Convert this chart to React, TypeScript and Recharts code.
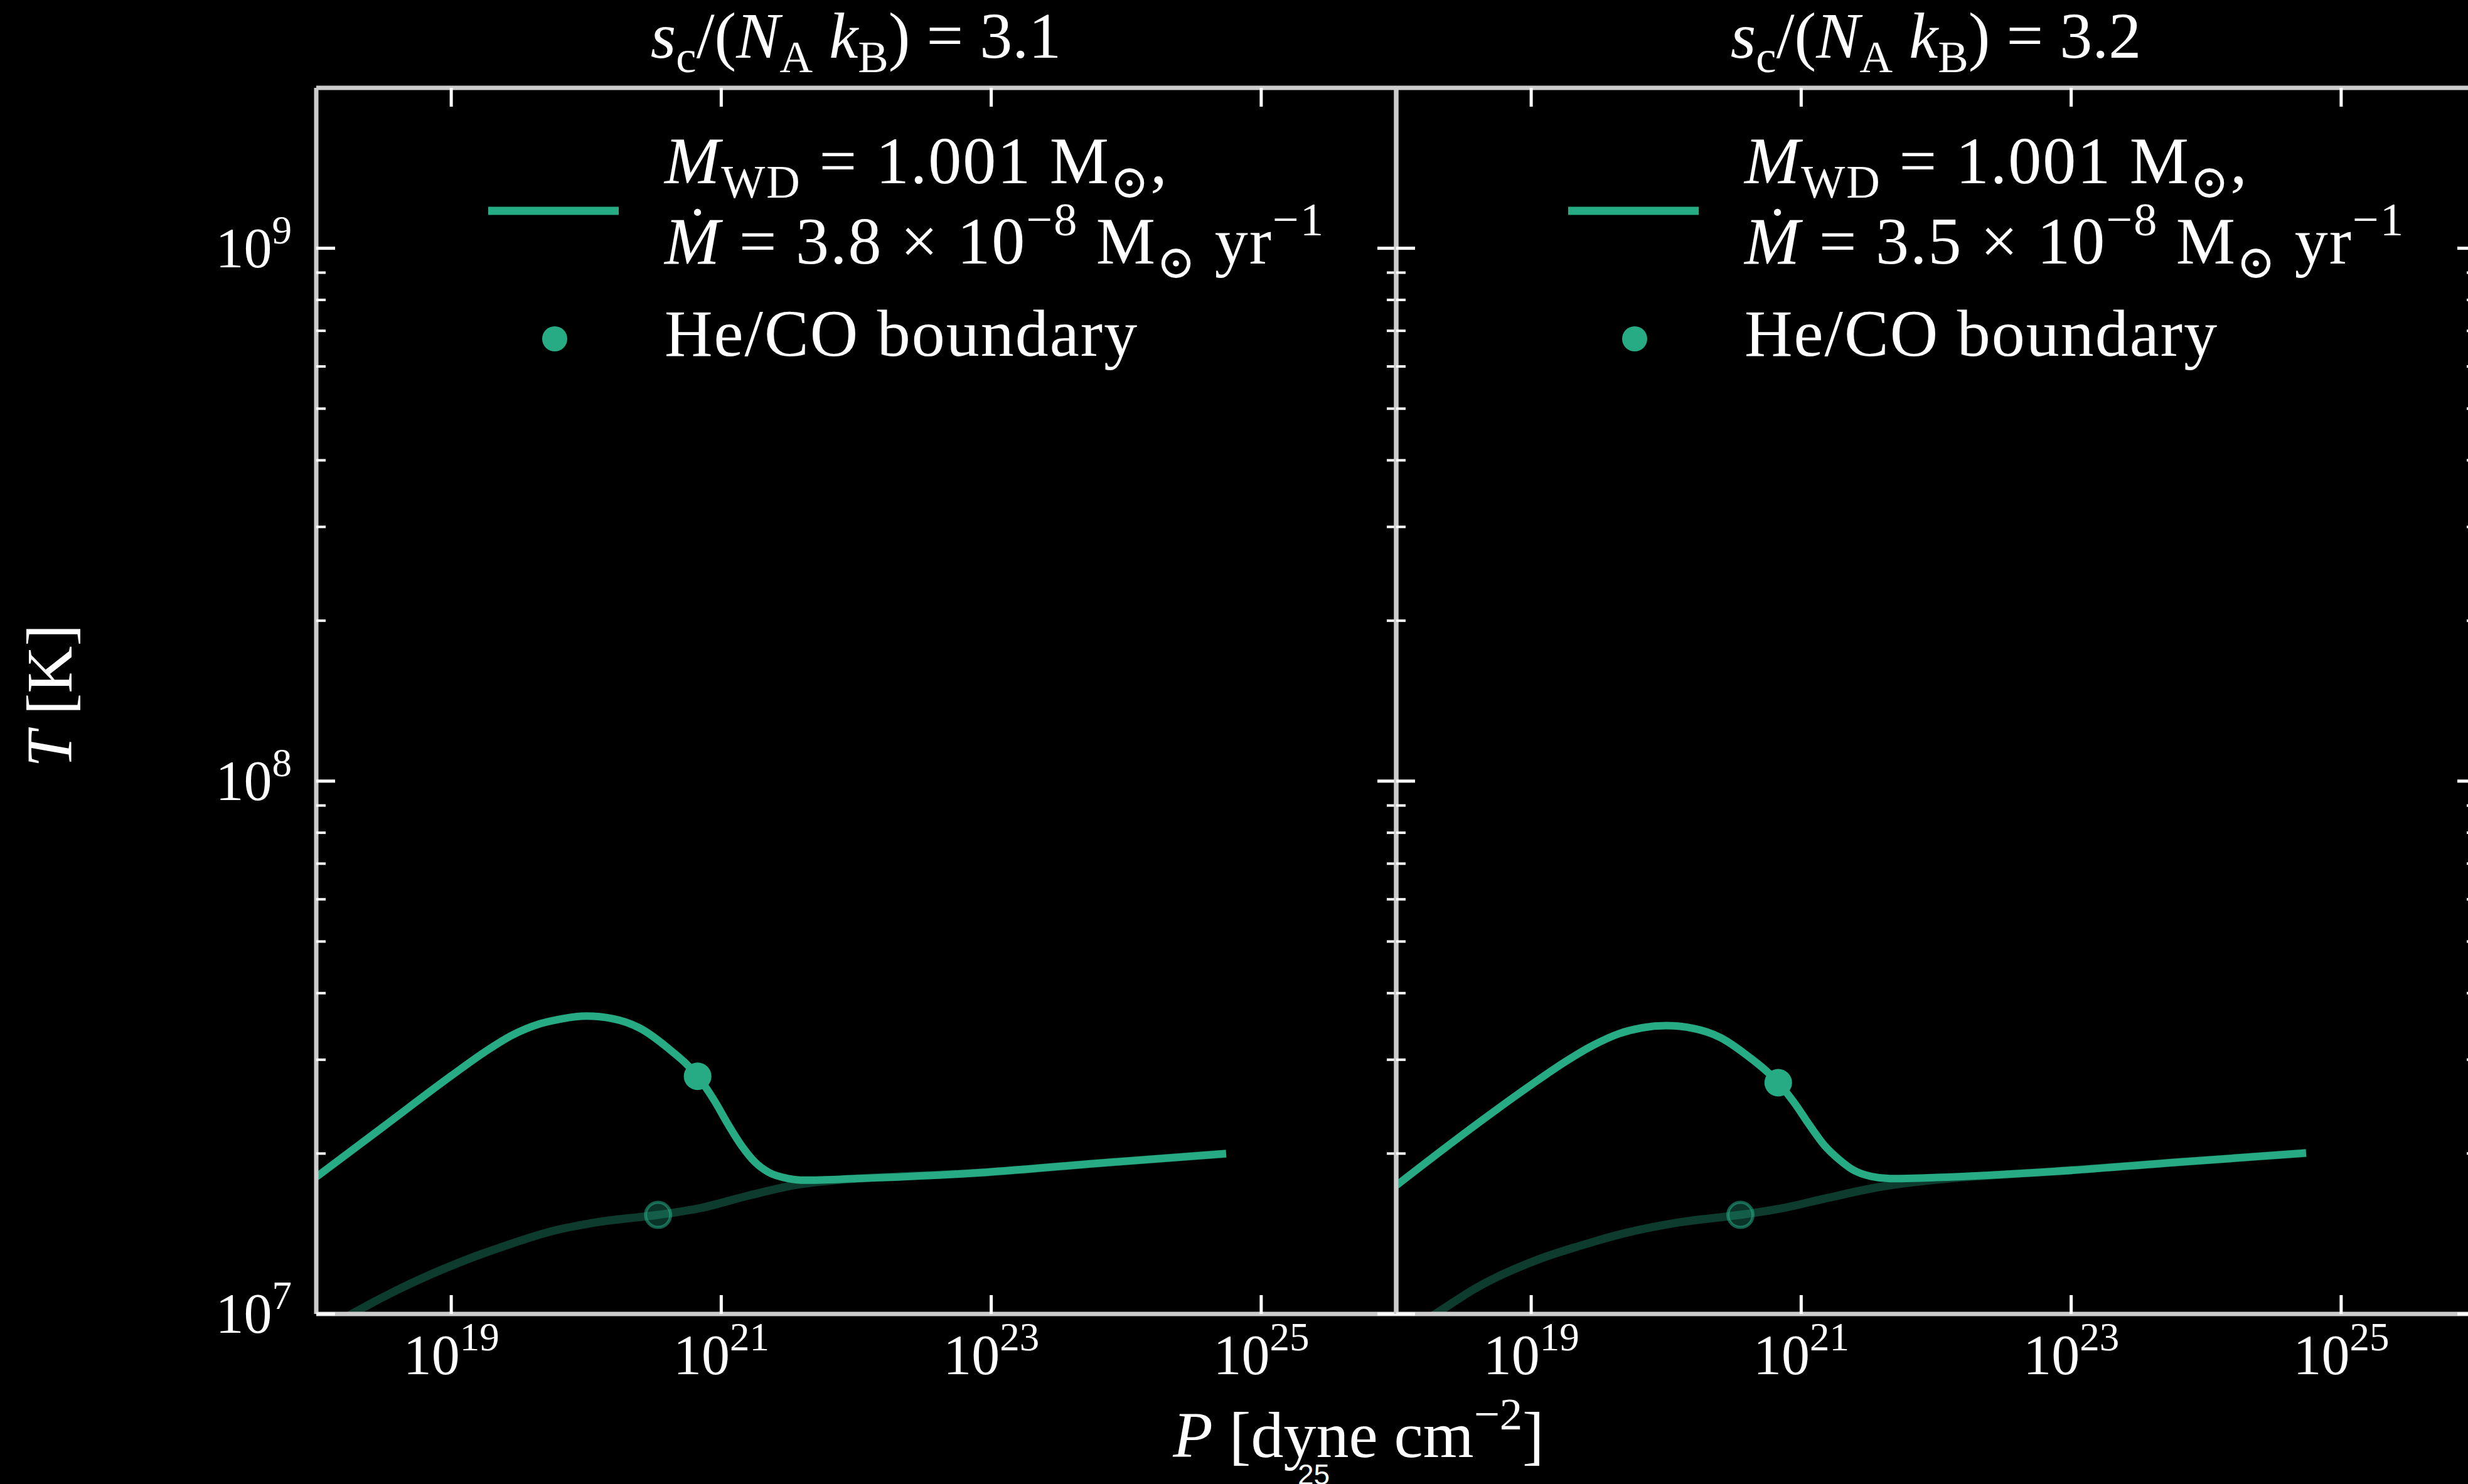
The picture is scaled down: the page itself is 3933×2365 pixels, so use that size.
import { ComposedChart, Legend, Line, Scatter, XAxis, YAxis } from "recharts";

document.body.style.margin = "0";
document.body.style.background = "#000";

const GREEN = "#26ab85";
const SPINE = "#cccccc";
const FONT = "'Liberation Serif', 'DejaVu Serif', serif";

// log10 P [dyne cm^-2] and log10 T [K]
const leftP = [18.0, 18.5, 19.0, 19.25, 19.45, 19.65, 19.82, 20.0, 20.2, 20.4, 20.6, 20.825, 20.95, 21.05, 21.15, 21.25, 21.35, 21.5, 21.62, 22.0, 22.85, 23.8, 24.74];
const leftT = [7.257, 7.352, 7.447, 7.492, 7.523, 7.544, 7.554, 7.559, 7.554, 7.536, 7.5, 7.446, 7.4, 7.356, 7.316, 7.285, 7.266, 7.254, 7.251, 7.254, 7.264, 7.283, 7.301];
const leftFadeP = [18.0, 18.264, 18.6, 19.115, 19.4, 19.756, 20.1, 20.532, 20.85, 21.2, 21.573, 22.0, 22.4, 22.85, 23.8, 24.74];
const leftFadeT = [6.96, 7.0, 7.045, 7.102, 7.128, 7.156, 7.173, 7.186, 7.199, 7.222, 7.243, 7.254, 7.259, 7.264, 7.283, 7.301];

const rightP = [18.0, 18.5, 19.0, 19.25, 19.45, 19.65, 19.82, 20.0, 20.2, 20.4, 20.6, 20.83, 20.95, 21.06, 21.17, 21.28, 21.38, 21.52, 21.66, 22.0, 22.85, 23.8, 24.74];
const rightT = [7.241, 7.338, 7.43, 7.473, 7.503, 7.526, 7.537, 7.541, 7.536, 7.519, 7.485, 7.434, 7.396, 7.355, 7.317, 7.29, 7.271, 7.258, 7.254, 7.256, 7.267, 7.285, 7.302];
const rightFadeP = [18.0, 18.29, 18.6, 19.05, 19.35, 19.7, 20.1, 20.55, 20.85, 21.2, 21.55, 22.0, 22.4, 22.85, 23.8, 24.74];
const rightFadeT = [6.955, 7.0, 7.05, 7.102, 7.127, 7.152, 7.172, 7.186, 7.198, 7.218, 7.237, 7.252, 7.26, 7.267, 7.285, 7.302];

// He/CO boundary markers [logP, logT]
const leftBound = [20.825, 7.446];
const leftBoundFade = [20.532, 7.186];
const rightBound = [20.83, 7.434];
const rightBoundFade = [20.55, 7.186];

const xTicks = [19, 21, 23, 25];
const yDecades = [7, 8, 9];
const yTicks = [
  ...[7, 8].flatMap((e) => [1, 2, 3, 4, 5, 6, 7, 8, 9].map((m) => e + Math.log10(m))),
  9,
];

const titles = ["3.1", "3.2"];
const mdots = ["3.8", "3.5"];

const zip = (xs: number[], ys: number[]) => xs.map((x, i) => ({ x, y: ys[i] }));

type Part = { t: string; i?: boolean; v?: "sub" | "sup" };

function Rich({ x, y, parts, size, anchor = "start", transform, family = FONT, spacing }: {
  x: number; y: number; parts: Part[]; size: number; anchor?: string; transform?: string; family?: string;
  spacing?: number;
}) {
  let cur = 0;
  return (
    <text x={x} y={y} fontSize={size} fontFamily={family} fill="#fff" textAnchor={anchor as any}
      transform={transform} style={{ whiteSpace: "pre", letterSpacing: spacing }}>
      {parts.map((p, k) => {
        const target = p.v === "sub" ? size * 0.22 : p.v === "sup" ? -size * 0.42 : 0;
        const dy = target - cur;
        cur = target;
        return (
          <tspan key={k} dy={dy} fontSize={p.v ? size * 0.7 : size} fontStyle={p.i ? "italic" : "normal"}>
            {p.t}
          </tspan>
        );
      })}
    </text>
  );
}

const isMajor = (v: number) => Math.abs(v - Math.round(v)) < 1e-6;

const makeYTick = (dir: 1 | -1, labels: boolean) => (props: any) => {
  const { x, y, payload } = props;
  const major = isMajor(payload.value);
  return (
    <g>
      <line x1={x} x2={x + dir * (major ? 30 : 15)} y1={y} y2={y} stroke="#fff" strokeWidth={major ? 5 : 4} />
      {labels && major && yDecades.includes(Math.round(payload.value)) && (
        <Rich x={x - 39} y={y + 30} size={90} anchor="end"
          parts={[{ t: "10" }, { t: String(Math.round(payload.value)), v: "sup" }]} />
      )}
    </g>
  );
};

const makeXTick = (dir: 1 | -1, labels: boolean) => (props: any) => {
  const { x, y, payload } = props;
  return (
    <g>
      <line x1={x} x2={x} y1={y} y2={y + dir * 30} stroke="#fff" strokeWidth={5} />
      {labels && (
        <Rich x={x} y={y + 96} size={90} anchor="middle"
          parts={[{ t: "10" }, { t: String(payload.value), v: "sup" }]} />
      )}
    </g>
  );
};

function LegendBox({ mdot }: { mdot: string }) {
  return (
    <svg width={1460} height={450} style={{ overflow: "visible" }}>
      <line x1={18} x2={226} y1={156} y2={156} stroke={GREEN} strokeWidth={13} />
      <circle cx={124} cy={360} r={20} fill={GREEN} />
      <Rich x={299} y={112} size={106} spacing={2}
        parts={[{ t: "M", i: true }, { t: "WD", v: "sub" }, { t: " = 1.001 M" }, { t: "⊙", v: "sub" }, { t: "," }]} />
      <Rich x={299} y={240} size={106} spacing={2}
        parts={[{ t: "Ṁ", i: true }, { t: ` = ${mdot} × 10` }, { t: "−8", v: "sup" }, { t: " M" }, { t: "⊙", v: "sub" },
          { t: " yr" }, { t: "−1", v: "sup" }]} />
      <Rich x={299} y={387} size={106} spacing={2} parts={[{ t: "He/CO boundary" }]} />
    </svg>
  );
}

const markerMain = (p: any) => <circle cx={p.cx} cy={p.cy} r={22} fill={GREEN} />;
const markerFade = (p: any) => (
  <circle cx={p.cx} cy={p.cy} r={20} fill={GREEN} fillOpacity={0.3} stroke={GREEN} strokeOpacity={0.55} strokeWidth={5} />
);

const axisLine = { stroke: SPINE, strokeWidth: 7 };

function Panel({ main, fade, bound, boundFade, mdot, labels, left, width, margin, legendLeft }: {
  main: { x: number; y: number }[]; fade: { x: number; y: number }[]; bound: number[]; boundFade: number[];
  mdot: string; labels: boolean; left: number; width: number;
  margin: { top: number; left: number; right: number; bottom: number }; legendLeft: number;
}) {
  return (
    <div style={{ position: "absolute", left, top: 0 }}>
      <ComposedChart width={width} height={2365} margin={margin}>
        <XAxis dataKey="x" type="number" domain={[18, 26]} ticks={xTicks} allowDataOverflow interval={0}
          height={1} tickSize={0} tickMargin={0} tick={makeXTick(-1, true)} axisLine={axisLine} tickLine={false} />
        <XAxis xAxisId="top" orientation="top" dataKey="x" type="number" domain={[18, 26]} ticks={xTicks}
          allowDataOverflow interval={0} height={1} tickSize={0} tickMargin={0} tick={makeXTick(1, false)}
          axisLine={axisLine} tickLine={false} />
        <YAxis dataKey="y" type="number" domain={[7, Math.log10(2e9)]} ticks={yTicks} allowDataOverflow interval={0}
          width={1} tickSize={0} tickMargin={0} tick={makeYTick(1, labels)} axisLine={axisLine} tickLine={false} />
        <YAxis yAxisId="r" orientation="right" dataKey="y" type="number" domain={[7, Math.log10(2e9)]} ticks={yTicks}
          allowDataOverflow interval={0} width={1} tickSize={0} tickMargin={0} tick={makeYTick(-1, false)}
          axisLine={axisLine} tickLine={false} />
        <Line data={fade} dataKey="y" type="monotone" stroke={GREEN} strokeOpacity={0.35} strokeWidth={13}
          dot={false} isAnimationActive={false} legendType="none" />
        <Scatter data={[{ x: boundFade[0], y: boundFade[1] }]} dataKey="y" shape={markerFade}
          isAnimationActive={false} legendType="none" />
        <Line data={main} dataKey="y" type="monotone" stroke={GREEN} strokeWidth={12} dot={false}
          isAnimationActive={false} />
        <Scatter data={[{ x: bound[0], y: bound[1] }]} dataKey="y" shape={markerMain} isAnimationActive={false} />
        <Legend layout="horizontal" verticalAlign="middle" align="center" width={1460} height={450}
          wrapperStyle={{ left: legendLeft, top: 180, width: 1460, height: 450 }}
          content={() => <LegendBox mdot={mdot} />} />
      </ComposedChart>
    </div>
  );
}

export default function App() {
  return (
    <div style={{ position: "relative", width: 3933, height: 2365, background: "#000", overflow: "hidden" }}>
      <Panel main={zip(leftP, leftT)} fade={zip(leftFadeP, leftFadeT)} bound={leftBound} boundFade={leftBoundFade}
        mdot={mdots[0]} labels left={0} width={2400} margin={{ top: 139, left: 503, right: 174, bottom: 270 }}
        legendLeft={760} />
      <Panel main={zip(rightP, rightT)} fade={zip(rightFadeP, rightFadeT)} bound={rightBound}
        boundFade={rightBoundFade} mdot={mdots[1]} labels={false} left={2125} width={1921}
        margin={{ top: 139, left: 99, right: 99, bottom: 270 }} legendLeft={356} />
      <svg width={3933} height={2365} style={{ position: "absolute", left: 0, top: 0, pointerEvents: "none" }}>
        {titles.map((s, k) => (
          <Rich key={k} x={1364 + k * 1721} y={92} size={104} anchor="middle"
            parts={[{ t: "s", i: true }, { t: "c", v: "sub" }, { t: "/(" }, { t: "N", i: true }, { t: "A", v: "sub" },
              { t: " " }, { t: "k", i: true }, { t: "B", v: "sub" }, { t: `) = ${s}` }]} />
        ))}
        <Rich x={2165} y={2322} size={104} anchor="middle"
          parts={[{ t: "P", i: true }, { t: " [dyne cm" }, { t: "−2", v: "sup" }, { t: "]" }]} />
        <Rich x={0} y={0} size={104} anchor="middle" transform="translate(114 1109) rotate(-90)"
          parts={[{ t: "T", i: true }, { t: " [K]" }]} />
        <Rich x={2068} y={2366} size={46} family="'Liberation Sans', Arial, sans-serif" parts={[{ t: "25" }]} />
      </svg>
    </div>
  );
}
